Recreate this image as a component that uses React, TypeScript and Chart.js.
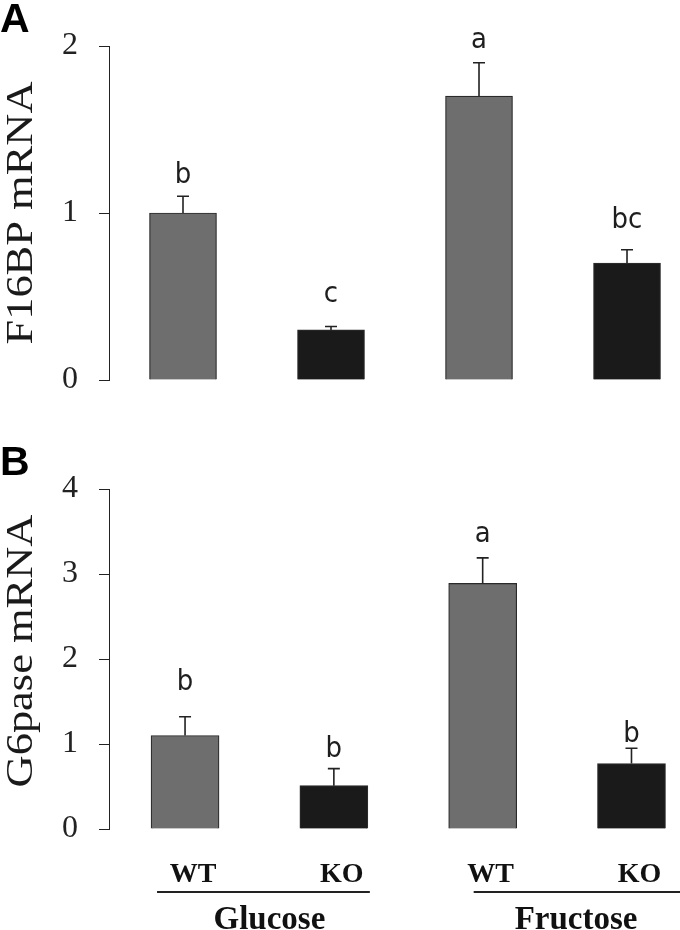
import React, { useEffect, useRef } from "react";
import { Chart, registerables } from "chart.js";
Chart.register(...registerables);

// ---- data ----
const genotypes = ["WT", "KO", "WT", "KO"];
const groups = ["Glucose", "Fructose"];
const barColors = ["#6e6e6e", "#1a1a1a", "#6e6e6e", "#1a1a1a"];

const f16bpMean = [1.0, 0.3, 1.7, 0.7];
const f16bpSem = [0.1, 0.02, 0.2, 0.08];
const f16bpLetters = ["b", "c", "a", "bc"];
const f16bpLetterAt = [1.18, 0.47, 1.99, 0.91];
const f16bpTicks = [0, 1, 2];

const g6paseMean = [1.1, 0.51, 2.89, 0.77];
const g6paseSem = [0.22, 0.2, 0.3, 0.18];
const g6paseLetters = ["b", "b", "a", "b"];
const g6paseLetterAt = [1.63, 0.85, 3.38, 1.02];
const g6paseTicks = [0, 1, 2, 3, 4];

const annotPlugin = {
  id: "annot",
  afterDatasetsDraw(chart: any, _args: any, opts: any) {
    const ctx = chart.ctx;
    const meta = chart.getDatasetMeta(0);
    const y = chart.scales.y;
    const area = chart.chartArea;
    ctx.save();
    meta.data.forEach((bar: any, i: number) => {
      const x = bar.x;
      const top = y.getPixelForValue(opts.mean[i]);
      const et = y.getPixelForValue(opts.mean[i] + opts.sem[i]);
      ctx.strokeStyle = "#222";
      ctx.lineWidth = 1.6;
      ctx.beginPath();
      ctx.moveTo(x, top);
      ctx.lineTo(x, et);
      ctx.moveTo(x - 6, et);
      ctx.lineTo(x + 6, et);
      ctx.stroke();
      const ly = y.getPixelForValue(opts.letterAt[i]);
      ctx.save();
      ctx.translate(x, ly);
      ctx.scale(1, 1.12);
      ctx.font = '26px "DejaVu Sans"';
      ctx.fillStyle = "#1e1e1e";
      ctx.textAlign = "center";
      ctx.textBaseline = "alphabetic";
      ctx.fillText(opts.letters[i], 0, 0);
      ctx.restore();
    });
    // y title
    ctx.save();
    ctx.translate(32, (area.top + area.bottom) / 2 + opts.titleShift);
    ctx.rotate(-Math.PI / 2);
    ctx.scale(1.17, 1);
    ctx.font = '38px "Liberation Serif"';
    ctx.fillStyle = "#1a1a1a";
    ctx.textAlign = "center";
    ctx.textBaseline = "alphabetic";
    ctx.fillText(opts.title, 0, 0);
    ctx.restore();
    // panel letter
    ctx.font = 'bold 41px "Liberation Sans"';
    ctx.fillStyle = "#000";
    ctx.textAlign = "left";
    ctx.fillText(opts.panel, 0, opts.panelBaseline);
    // group labels
    if (opts.groupLabels) {
      const b = meta.data.map((d: any) => d.x);
      const base = area.bottom;
      ctx.font = 'bold 28px "Liberation Serif"';
      ctx.textAlign = "center";
      ctx.fillStyle = "#111";
      genotypes.forEach((g, i) => {
        ctx.fillText(g, b[i] + 8, base + 53);
      });
      ctx.strokeStyle = "#222";
      ctx.lineWidth = 2;
      ctx.beginPath();
      ctx.moveTo(b[0] - 28, base + 63);
      ctx.lineTo(b[1] + 36, base + 63);
      ctx.moveTo(b[2] - 9, base + 63);
      ctx.lineTo(chart.width, base + 63);
      ctx.stroke();
      ctx.font = 'bold 33px "Liberation Serif"';
      ctx.fillText(groups[0], (b[0] + b[1]) / 2 + 10, base + 100);
      ctx.fillText(groups[1], (b[2] + b[3]) / 2 + 19, base + 100);
    }
    ctx.restore();
  },
};

function Panel(props: any) {
  const ref = useRef<HTMLCanvasElement>(null);
  useEffect(() => {
    const c = ref.current!;
    const chart = new Chart(c, {
      type: "bar",
      data: {
        datasets: [
          {
            data: props.mean.map((v: number, i: number) => ({ x: i, y: v })),
            backgroundColor: barColors,
            borderColor: "#2a2a2a",
            borderWidth: 1.2,
            barThickness: props.barW,
          } as any,
        ],
      },
      options: {
        responsive: false,
        animation: false,
        events: [],
        layout: { padding: { top: props.padTop, bottom: props.padBottom, left: 0, right: 0 } },
        plugins: {
          legend: { display: false },
          tooltip: { enabled: false },
          annot: {
            mean: props.mean,
            sem: props.sem,
            letters: props.letters,
            letterAt: props.letterAt,
            title: props.title,
            titleShift: props.titleShift,
            panel: props.panel,
            panelBaseline: props.panelBaseline,
            groupLabels: props.groupLabels,
          },
        } as any,
        scales: {
          x: {
            type: "linear",
            display: false,
            offset: false,
            min: props.xMin,
            max: props.xMax,
          },
          y: {
            min: 0,
            max: props.ticks[props.ticks.length - 1],
            afterFit: (s: any) => {
              s.width = 109;
            },
            afterBuildTicks: (s: any) => {
              s.ticks = props.ticks.map((v: number) => ({ value: v }));
            },
            ticks: {
              padding: 21,
              color: "#222",
              font: { family: "Liberation Serif", size: 32 },
            },
            grid: {
              display: true,
              drawOnChartArea: false,
              drawTicks: true,
              tickLength: 10,
              color: "#222",
              lineWidth: 1,
            },
            border: { display: true, color: "#222", width: 1 },
          },
        },
      },
      plugins: [annotPlugin],
    });
    return () => chart.destroy();
  }, []);
  return (
    <canvas
      ref={ref}
      width={680}
      height={props.h}
      style={{ position: "absolute", left: 0, top: props.top, width: 680, height: props.h, display: "block" }}
    />
  );
}

export default function App() {
  return (
    <div style={{ position: "absolute", left: 0, top: 0, width: 680, height: 930, background: "#fff", overflow: "hidden" }}>
      <Panel
        top={0}
        h={440}
        padTop={46}
        padBottom={60}
        mean={f16bpMean}
        sem={f16bpSem}
        letters={f16bpLetters}
        letterAt={f16bpLetterAt}
        ticks={f16bpTicks}
        title="F16BP mRNA"
        titleShift={0}
        panel="A"
        panelBaseline={32}
        groupLabels={false}
        xMin={-0.5}
        xMax={3.358}
        barW={67}
      />
      <Panel
        top={440}
        h={490}
        padTop={49}
        padBottom={101}
        mean={g6paseMean}
        sem={g6paseSem}
        letters={g6paseLetters}
        letterAt={g6paseLetterAt}
        ticks={g6paseTicks}
        title="G6pase mRNA"
        titleShift={-8}
        panel="B"
        panelBaseline={35}
        groupLabels={true}
        xMin={-0.511}
        xMax={3.326}
        barW={68}
      />
    </div>
  );
}
